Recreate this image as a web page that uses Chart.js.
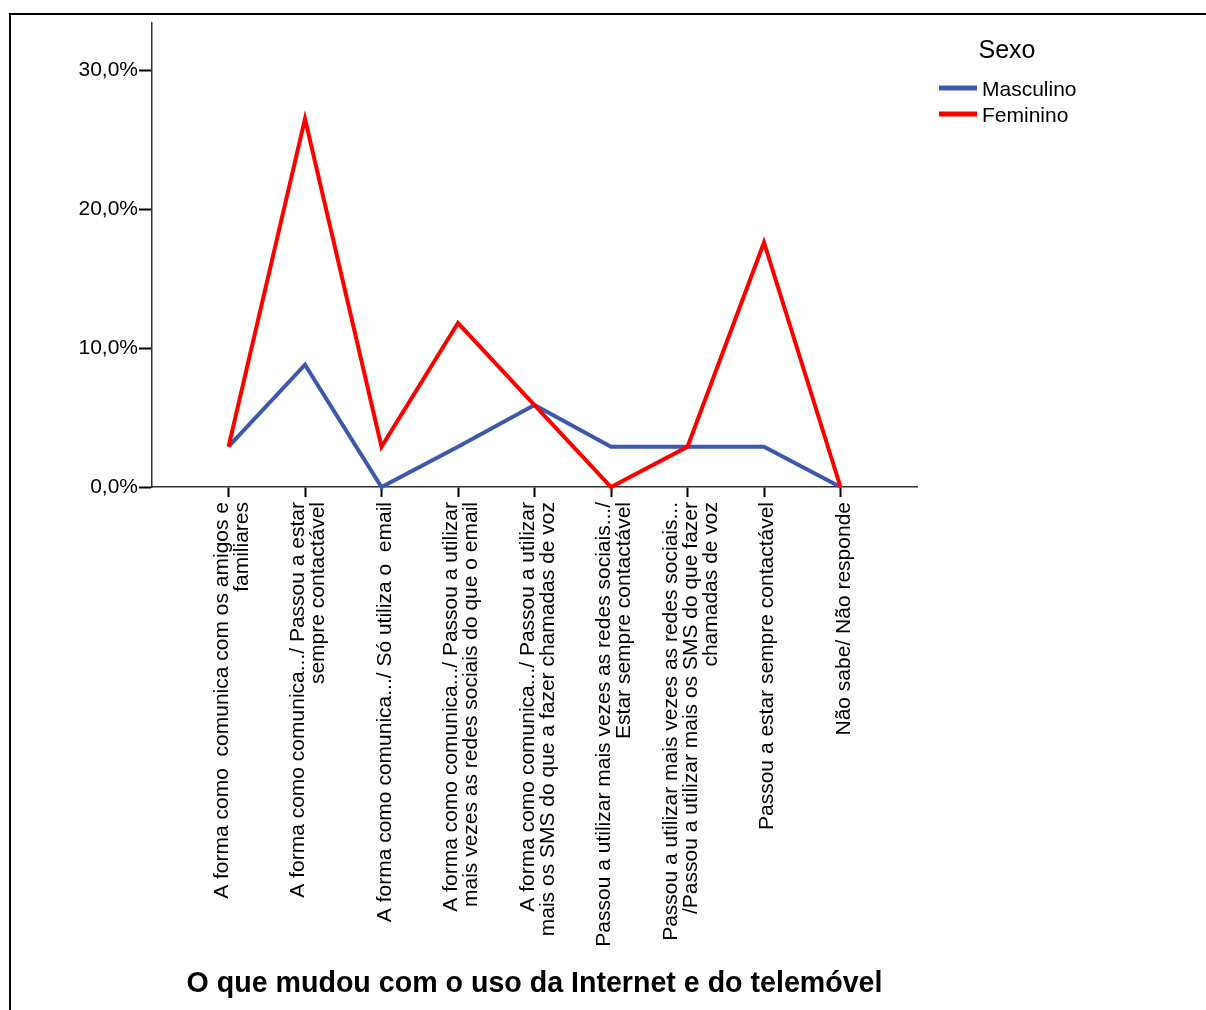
<!DOCTYPE html>
<html lang="pt">
<head>
<meta charset="utf-8">
<title>O que mudou com o uso da Internet e do telemóvel</title>
<script src="https://cdn.jsdelivr.net/npm/chart.js@4.4.1/dist/chart.umd.min.js"></script>
<style>
  html, body { margin: 0; padding: 0; background: #fff; }
  #wrap { position: relative; width: 1206px; height: 1010px; overflow: hidden; }
  #frame { position: absolute; left: 9px; top: 13px; right: -10px; bottom: -10px;
           border-top: 2px solid #000; border-left: 2px solid #000; pointer-events: none; }
</style>
</head>
<body>
<div id="wrap"><canvas id="chart"></canvas><div id="frame"></div></div>
<script>
// Category labels (one entry per line of the rotated tick label)
const categories = [
  ['A forma como  comunica com os amigos e', 'familiares'],
  ['A forma como comunica.../ Passou a estar', 'sempre contactável'],
  ['A forma como comunica.../ Só utiliza o  email'],
  ['A forma como comunica.../ Passou a utilizar', 'mais vezes as redes sociais do que o email'],
  ['A forma como comunica.../ Passou a utilizar', 'mais os SMS do que a fazer chamadas de voz'],
  ['Passou a utilizar mais vezes as redes sociais.../', 'Estar sempre contactável'],
  ['Passou a utilizar mais vezes as redes sociais...', '/Passou a utilizar mais os SMS do que fazer', 'chamadas de voz'],
  ['Passou a estar sempre contactável'],
  ['Não sabe/ Não responde']
];

// Percentages per category
const masculino = [2.9, 8.8, 0.0, 2.9, 5.9, 2.9, 2.9, 2.9, 0.0];
const feminino  = [2.9, 26.5, 2.9, 11.8, 5.9, 0.0, 2.9, 17.6, 0.0];

const seriesNames = ['Masculino', 'Feminino'];
const yTicks = [0, 10, 20, 30];
const legendTitle = 'Sexo';
const axisTitle = 'O que mudou com o uso da Internet e do telemóvel';

const FONT = '"Liberation Sans", Arial, Helvetica, sans-serif';
const LABEL_LINE = 20;      // line height of the rotated tick labels (px)
const Y_MAX = 33.4;

const toPoints = arr => arr.map((v, i) => ({ x: i + 1, y: v }));

// Legend drawn in the right margin: title plus line swatches
const seriesLegend = {
  id: 'seriesLegend',
  afterDraw(chart, _args, o) {
    const { ctx } = chart;
    ctx.save();
    ctx.textBaseline = 'middle';
    ctx.fillStyle = '#000';
    ctx.textAlign = 'center';
    ctx.font = `${o.titleSize}px ${FONT}`;
    ctx.fillText(o.title, o.titleX, o.titleY);
    ctx.textAlign = 'left';
    ctx.font = `${o.labelSize}px ${FONT}`;
    chart.data.datasets.forEach((ds, i) => {
      const y = o.itemY + i * o.itemGap;
      ctx.fillStyle = ds.borderColor;
      ctx.fillRect(o.x, y - o.swatchH / 2, o.swatchW, o.swatchH);
      ctx.fillStyle = '#000';
      ctx.fillText(ds.label, o.x + o.swatchW + o.textGap, y + 2);
    });
    ctx.restore();
  }
};

new Chart(document.getElementById('chart'), {
  type: 'line',
  data: {
    datasets: [
      {
        label: seriesNames[0],
        data: toPoints(masculino),
        borderColor: '#3e58ac',
        backgroundColor: '#3e58ac',
        order: 1
      },
      {
        label: seriesNames[1],
        data: toPoints(feminino),
        borderColor: '#ff0000',
        backgroundColor: '#ff0000',
        order: 0
      }
    ]
  },
  options: {
    responsive: true,
    maintainAspectRatio: false,
    animation: false,
    events: [],
    layout: { padding: { top: 23, right: 289, bottom: 0, left: 0 } },
    elements: {
      line: { borderWidth: 4, tension: 0, borderJoinStyle: 'miter', borderCapStyle: 'butt' },
      point: { radius: 0, hoverRadius: 0 }
    },
    datasets: { line: { clip: false } },
    scales: {
      x: {
        type: 'linear', position: 'bottom', weight: 0,
        min: 0, max: categories.length + 1,
        afterBuildTicks: s => { s.ticks = categories.map((_, i) => ({ value: i + 1 })); },
        afterFit: s => { s.height = 10; },
        ticks: { display: false },
        grid: { drawOnChartArea: false, drawTicks: true, tickLength: 10, tickWidth: 2, tickColor: '#000' },
        border: { color: '#333', width: 1.5 }
      },
      xl: {
        type: 'linear', position: 'bottom', weight: 1,
        min: 0, max: categories.length + 1,
        afterBuildTicks: s => {
          const pxPerUnit = (s.width / (s.max - s.min)) || 76.5;
          s.ticks = categories.map((lines, i) => ({
            value: i + 1 + (3.5 - (lines.length - 1) * LABEL_LINE / 2) / pxPerUnit
          }));
        },
        afterFit: s => { s.height = 513; },
        ticks: {
          autoSkip: false, minRotation: 90, maxRotation: 90, padding: 5, color: '#000',
          font: { family: FONT, size: 21, lineHeight: LABEL_LINE + 'px' },
          callback: (v, i) => categories[i]
        },
        grid: { display: false, drawTicks: false },
        border: { display: false },
        title: {
          display: true, text: axisTitle, color: '#000',
          font: { family: FONT, size: 28.6, weight: 'bold' },
          padding: { top: 0, bottom: 9 }
        }
      },
      y: {
        type: 'linear', min: 0, max: Y_MAX,
        afterBuildTicks: s => { s.ticks = yTicks.map(v => ({ value: v })); },
        afterFit: s => { s.width = 152; },
        ticks: {
          padding: 1, color: '#000',
          font: { family: FONT, size: 21 },
          callback: v => v.toFixed(1).replace('.', ',') + '%'
        },
        grid: { drawOnChartArea: false, tickLength: 13, tickWidth: 2, tickColor: '#000' },
        border: { color: '#333', width: 1.5 }
      }
    },
    plugins: {
      legend: { display: false },
      tooltip: { enabled: false },
      seriesLegend: {
        title: legendTitle, titleSize: 25, titleX: 1007, titleY: 51,
        labelSize: 21, x: 939, itemY: 88, itemGap: 26,
        swatchW: 38, swatchH: 5, textGap: 5
      }
    }
  },
  plugins: [seriesLegend]
});
</script>
</body>
</html>
